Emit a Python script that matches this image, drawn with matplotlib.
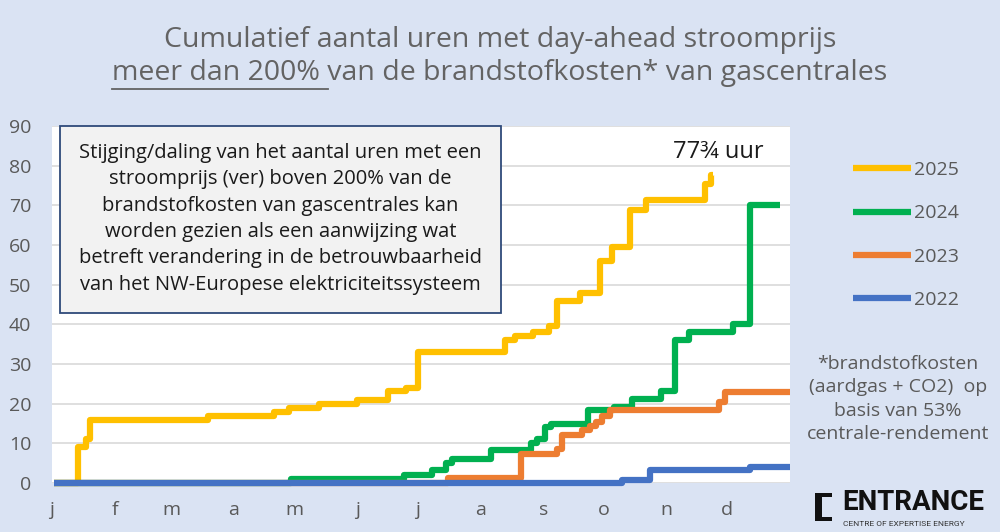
import matplotlib.pyplot as plt
import matplotlib as mpl
from matplotlib.patches import Rectangle, Polygon

mpl.rcParams['font.family'] = ['Open Sans', 'DejaVu Sans']

# --- data (dag van het jaar, cumulatief aantal uren) ---
days_2025 = [1, 13, 17, 19, 77, 110, 117, 132, 151, 166, 175, 181, 224, 229, 238, 246, 250, 261, 271, 277, 286, 294, 323, 326, 327]
vals_2025 = [0, 9, 11, 16, 17, 18, 19, 20, 21, 23.3, 24, 33, 36, 37, 38, 39.5, 46, 48, 56, 59.4, 68.7, 71.3, 75.3, 77.75, 77.75]

days_2024 = [1, 118, 174, 188, 195, 198, 217, 237, 240, 244, 247, 265, 278, 287, 301, 308, 315, 337, 345, 360]
vals_2024 = [0, 1, 2, 3.3, 5, 6, 8.3, 10, 11.2, 14, 15, 18.3, 19.2, 21.3, 23.2, 36, 38, 40, 70, 70]

days_2023 = [1, 196, 232, 250, 252, 262, 266, 269, 272, 276, 330, 333, 365]
vals_2023 = [0, 1.2, 7.3, 8.5, 12, 13.3, 14.3, 15.5, 16.8, 18.3, 20.4, 23, 23]

days_2022 = [1, 282, 296, 345, 365]
vals_2022 = [0, 0.8, 3.3, 4.1, 4.1]

month_starts = [0, 31, 59, 90, 120, 151, 181, 212, 243, 273, 304, 334]
month_labels = ['j', 'f', 'm', 'a', 'm', 'j', 'j', 'a', 's', 'o', 'n', 'd']

series = [
    ('2025', days_2025, vals_2025, '#FFC000'),
    ('2024', days_2024, vals_2024, '#00B050'),
    ('2023', days_2023, vals_2023, '#ED7D31'),
    ('2022', days_2022, vals_2022, '#4472C4'),
]

bg = '#DAE3F3'
grey = '#595959'

fig = plt.figure(figsize=(10, 5.32), dpi=100, facecolor=bg)
ax = fig.add_axes([0.052, 1 - 483 / 532, 0.738, 357 / 532])
ax.set_facecolor('white')

lines = []
for label, d, v, c in series:
    ln, = ax.plot(d, v, drawstyle='steps-post', color=c, lw=4.5,
                  solid_capstyle='butt', label=label, clip_on=False)
    lines.append(ln)

ax.set_xlim(0, 365)
ax.set_ylim(0, 90)
ax.set_yticks(range(0, 91, 10))
ax.set_xticks(month_starts)
ax.set_xticklabels(month_labels)
ax.tick_params(axis='both', length=0, colors=grey, labelsize=14)
ax.tick_params(axis='x', pad=13)
ax.tick_params(axis='y', pad=15)
ax.grid(axis='y', color='#D9D9D9', lw=1.2)
ax.set_axisbelow(True)
for s in ax.spines.values():
    s.set_visible(False)

# tekstvak
ax.add_patch(Rectangle((0.0108, 0.477), 0.5976, 0.523, transform=ax.transAxes,
                       facecolor='#F2F2F2', edgecolor='#2F4A7A', lw=1.3,
                       zorder=5, clip_on=False))
box_txt = ("Stijging/daling van het aantal uren met een\n"
           "stroomprijs (ver) boven 200% van de\n"
           "brandstofkosten van gascentrales kan\n"
           "worden gezien als een aanwijzing wat\n"
           "betreft verandering in de betrouwbaarheid\n"
           "van het NW-Europese elektriciteitssysteem")
ax.text(0.3096, 0.74, box_txt, transform=ax.transAxes, ha='center', va='center',
        fontsize=14.5, color='#1a1a1a', linespacing=1.42, zorder=6)

# eindwaarde 2025
ax.annotate('77¾ uur', xy=(days_2025[-1], vals_2025[-1]), xytext=(4, 16),
            textcoords='offset points', ha='center', va='center',
            fontsize=17, color='#1a1a1a')

# titel
fig.text(0.5, 1 - 40 / 532, 'Cumulatief aantal uren met day-ahead stroomprijs',
         ha='center', va='center', fontsize=20.5, color='#636363')
t2 = fig.text(0.5, 1 - 73 / 532, 'meer dan 200% van de brandstofkosten* van gascentrales',
              ha='center', va='center', fontsize=20.5, color='#636363')
fig.canvas.draw()
r = fig.canvas.get_renderer()
bb = t2.get_window_extent(r)
tmp = fig.text(0, 0, 'meer dan 200% ', fontsize=20.5)
w1 = tmp.get_window_extent(r).width
tmp.remove()
W, H = fig.bbox.width, fig.bbox.height
uy = 1 - 89 / 532
fig.add_artist(plt.Line2D([bb.x0 / W, (bb.x0 + w1) / W], [uy, uy], color='#636363', lw=1.3))

# legenda
ax.legend(handles=lines, loc='center left', bbox_to_anchor=(0.853, 1 - 235 / 532),
          bbox_transform=fig.transFigure, frameon=False, fontsize=14,
          labelcolor=grey, handlelength=3.0, handletextpad=0.15, labelspacing=1.3,
          borderpad=0, borderaxespad=0)

# voetnoot
fig.text(0.898, 1 - 399 / 532,
         '*brandstofkosten\n(aardgas + CO2)  op\nbasis van 53%\ncentrale-rendement',
         ha='center', va='center', fontsize=14, color=grey, linespacing=1.38)

# logo
x0, x1, xi = 815 / 1000, 832 / 1000, 822 / 1000
y0, y1 = 1 - 521 / 532, 1 - 493 / 532
yi0, yi1 = 1 - 517 / 532, 1 - 497 / 532
fig.add_artist(Polygon([(x0, y0), (x1, y0), (x1, yi0), (xi, yi0), (xi, yi1),
                        (x1, yi1), (x1, y1), (x0, y1)], closed=True,
                       facecolor='#111111', edgecolor='none', transform=fig.transFigure))
fig.text(0.842, 1 - 503 / 532, 'ENTRANCE', ha='left', va='center', fontsize=20,
         fontweight='bold', family='Roboto', color='#111111')
fig.text(0.843, 1 - 524 / 532, 'CENTRE OF EXPERTISE ENERGY', ha='left', va='center',
         fontsize=6, family='Roboto', color='#333333')

fig.savefig('out.png', dpi=100, facecolor=bg)
